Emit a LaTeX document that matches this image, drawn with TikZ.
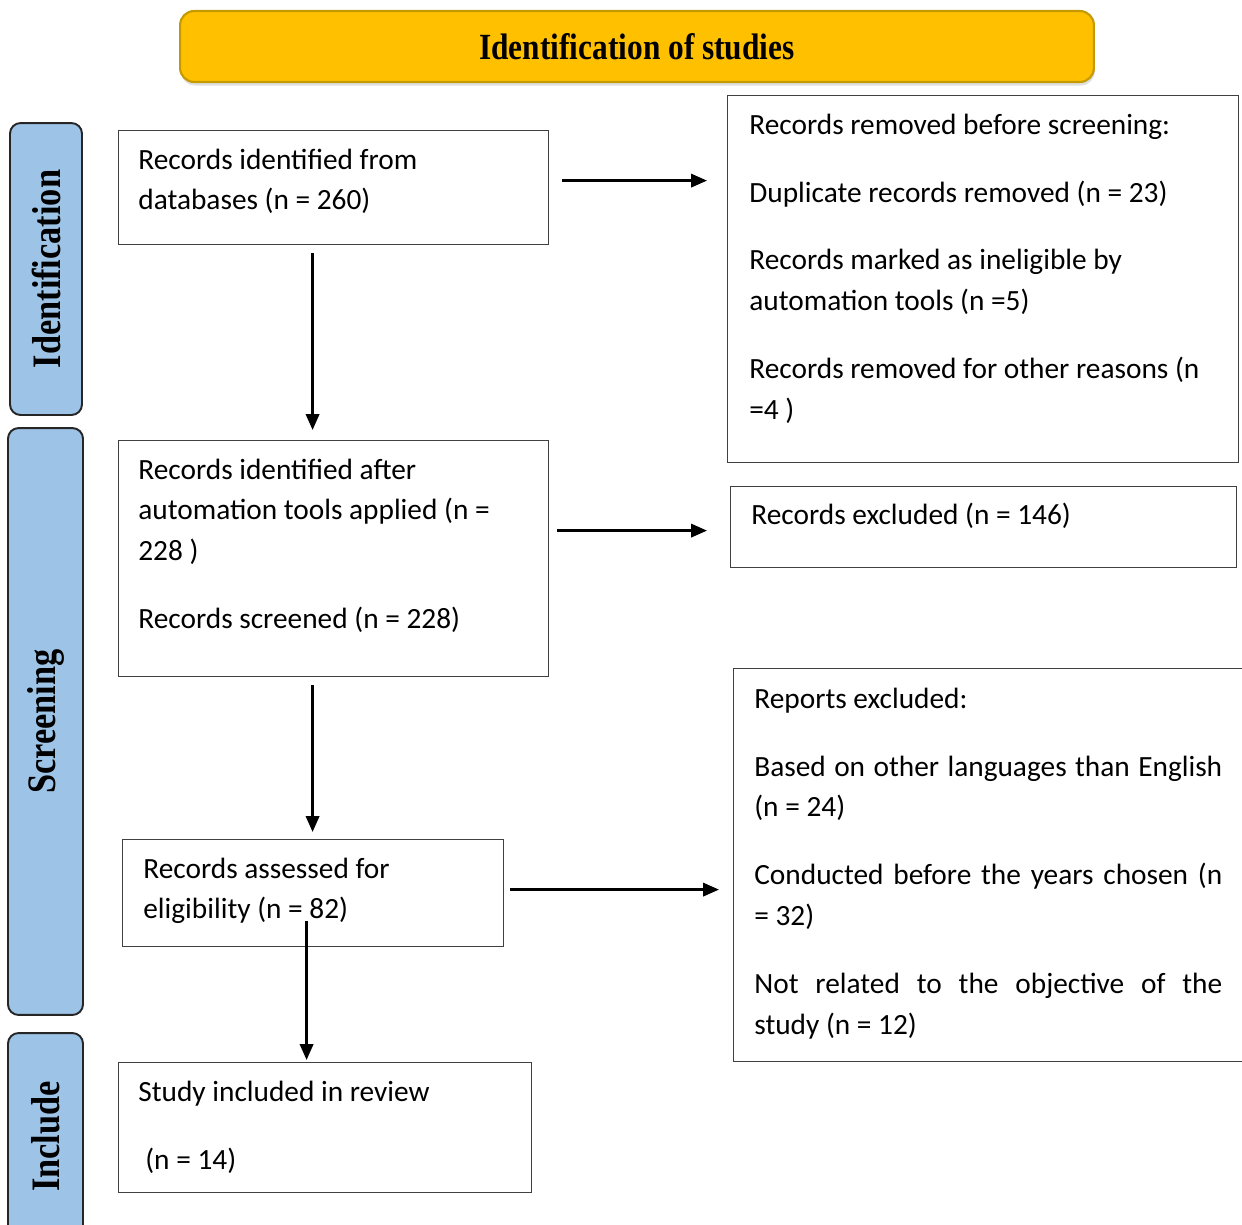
\documentclass[tikz,border=0pt]{standalone}
\usepackage{fontspec}
\setmainfont{Carlito}
\newfontfamily\headfont{Liberation Serif}[FakeStretch=0.85]
\usetikzlibrary{arrows.meta,shadows}

\definecolor{headgold}{HTML}{FFC000}
\definecolor{headedge}{HTML}{C49A00}
\definecolor{tabblue}{HTML}{9DC3E6}

\newcommand\boxfont{\fontsize{16.7}{23.3}\selectfont}

\begin{document}
\begin{tikzpicture}[x=0.02cm, y=-0.02cm,
    box/.style={draw=black!75, line width=0.7pt, anchor=north west, inner sep=0pt},
    txt/.style={anchor=base west, inner sep=0pt, align=flush left, text width=10cm,
      font=\boxfont},
    head/.style={draw=headedge, line width=1.2pt, fill=headgold, rounded corners=8pt,
      inner sep=0pt, minimum width=18.28cm, minimum height=1.42cm,
      font=\headfont\bfseries\fontsize{21}{24}\selectfont,
      drop shadow={shadow xshift=0.5pt, shadow yshift=-2pt, opacity=0.25}},
    tab/.style={draw=black!85, line width=1.1pt, rounded corners=6pt, fill=tabblue,
      rotate=90, inner sep=0pt, font=\headfont\bfseries\fontsize{23}{26}\selectfont},
    arr/.style={-{Triangle[length=9pt,width=7.5pt]}, line width=1.5pt}]

  \clip (0,0) rectangle (1242,1225);

  % Title bar
  \node[head] (title) at (637,46.5) {Identification of studies};

  % Side tabs
  \node[tab, minimum width=5.84cm, minimum height=1.44cm] (t-ident) at (46,269) {Identification};
  \node[tab, minimum width=11.74cm, minimum height=1.5cm] (t-scr) at (45.5,721.5) {Screening};
  \node[tab, minimum width=4.14cm, minimum height=1.5cm] (t-incl) at (45.5,1136.5) {Include};

  % Left column
  \node[box, minimum width=8.6cm, minimum height=2.28cm] (ident) at (118,130) {};
  \node[txt] (ident-t) at (138,169) {Records identified from\\databases (n = 260)};

  \node[box, minimum width=8.6cm, minimum height=4.72cm] (scr) at (118,440) {};
  \node[txt] (scr-t) at (138,479) {Records identified after\\automation tools applied (n =\\228 )\\[15.4pt]Records screened (n = 228)};

  \node[box, minimum width=7.62cm, minimum height=2.14cm] (elig) at (122,839) {};
  \node[txt] (elig-t) at (143,878) {Records assessed for\\eligibility (n = 82)};

  \node[box, minimum width=8.26cm, minimum height=2.6cm] (incl) at (118,1062) {};
  \node[txt] (incl-t) at (138,1101) {Study included in review\\[15.4pt]\hspace*{0.14cm}(n = 14)};

  % Right column
  \node[box, minimum width=10.22cm, minimum height=7.34cm] (rem) at (727,95) {};
  \node[txt] (rem-t) at (749,134) {Records removed before screening:\\[15.4pt]Duplicate records removed (n = 23)\\[15.4pt]Records marked as ineligible by\\automation tools (n =5)\\[15.4pt]Records removed for other reasons (n\\=4 )};

  \node[box, minimum width=10.12cm, minimum height=1.62cm] (excl) at (730,486) {};
  \node[txt] (excl-t) at (751,524) {Records excluded (n = 146)};

  \node[box, minimum width=10.6cm, minimum height=7.86cm] (rep) at (733,668) {};
  \node[txt, text width=9.36cm] (rep-t) at (754,708) {Reports excluded:\\[15.4pt]\makebox[\linewidth][s]{Based on other languages than English}\\(n = 24)\\[15.4pt]\makebox[\linewidth][s]{Conducted before the years chosen (n}\\= 32)\\[15.4pt]\makebox[\linewidth][s]{Not related to the objective of the}\\study (n = 12)};

  % Arrows
  \draw[arr, shorten <=0.26cm, shorten >=0.4cm] ([yshift=0.14cm]ident.east) -- ([yshift=0.14cm]ident.east -| rem.west);
  \draw[arr, shorten <=0.16cm, shorten >=0.2cm] ([xshift=-0.42cm]ident.south) -- ([xshift=-0.42cm]ident.south |- scr.north);
  \draw[arr, shorten <=0.16cm, shorten >=0.46cm] ([yshift=0.56cm]scr.east) -- ([yshift=0.56cm]scr.east -| excl.west);
  \draw[arr, shorten <=0.16cm, shorten >=0.14cm] ([xshift=-0.42cm]scr.south) -- ([xshift=-0.42cm]scr.south |- elig.north);
  \draw[arr, shorten <=0.12cm, shorten >=0.28cm] ([yshift=0.07cm]elig.east) -- ([yshift=0.07cm]elig.east -| rep.west);
  \draw[arr, shorten >=0.04cm] ([xshift=-0.13cm,yshift=0.52cm]elig.south) -- ([xshift=-0.13cm]elig.south |- incl.north);

\end{tikzpicture}
\end{document}
